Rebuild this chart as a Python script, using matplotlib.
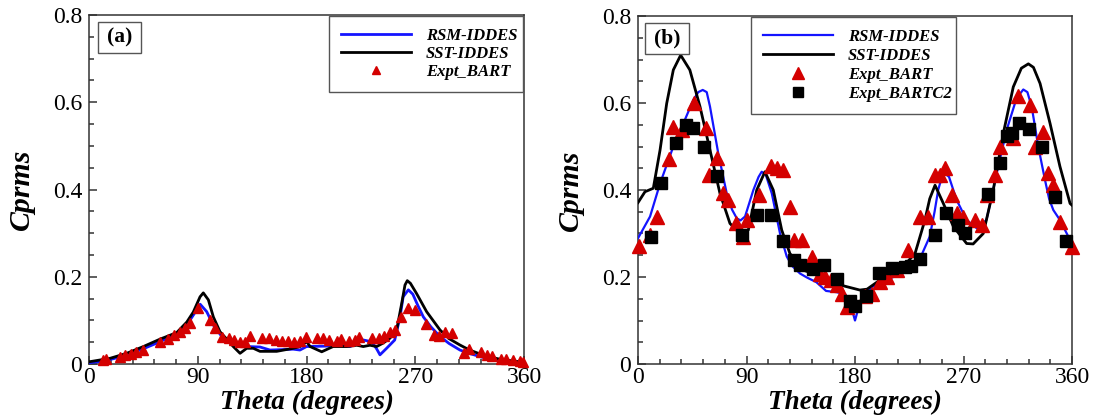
import matplotlib
matplotlib.use("Agg")
import matplotlib.pyplot as plt
from matplotlib.patches import Rectangle
from matplotlib.ticker import MultipleLocator, FuncFormatter

plt.rcParams["font.family"] = ["Liberation Serif", "DejaVu Serif"]

BLUE = "#1414ff"
RED = "#d40000"
SPINE = "#333333"

# ---- panel (a) ----
a_rsm_theta = [0, 10, 20, 31, 45, 58.8, 72.6, 80.9, 86.3, 92, 97.4, 102.9, 111, 119.4,
               130.5, 141.5, 149.8, 160, 169, 174.6, 180, 196.7, 202, 216, 227, 234,
               238, 240.8, 246.3, 253, 257.4, 260, 264.3, 268, 272, 276.7, 283,
               290.5, 298, 307, 315, 323.6, 332, 340, 348, 356.7, 360]
a_rsm_val = [0.003, 0.006, 0.012, 0.020, 0.035, 0.051, 0.070, 0.089, 0.112, 0.137,
             0.120, 0.089, 0.059, 0.044, 0.040, 0.039, 0.032, 0.033, 0.034, 0.032,
             0.040, 0.041, 0.044, 0.040, 0.055, 0.051, 0.035, 0.021, 0.036, 0.055,
             0.108, 0.154, 0.170, 0.160, 0.135, 0.108, 0.085, 0.063, 0.047, 0.032,
             0.024, 0.017, 0.011, 0.0076, 0.005, 0.004, 0.003]

a_sst_theta = [0, 17.4, 31.2, 45, 58.8, 72.6, 80.9, 86.3, 91.9, 94.6, 98.8, 102.9,
               108.4, 114, 119.4, 125, 130.5, 136, 141.5, 155.3, 169, 174.6, 180.2,
               183, 192.6, 202, 213.3, 221.5, 227, 232.5, 238, 243.5, 249, 254.6,
               258.8, 261.5, 263.4, 266, 271, 279.4, 290.5, 298, 307, 315, 323.6,
               332, 340, 348, 356.7, 360]
a_sst_val = [0.005, 0.013, 0.0245, 0.040, 0.057, 0.072, 0.096, 0.119, 0.154, 0.163,
             0.147, 0.108, 0.074, 0.057, 0.040, 0.0245, 0.036, 0.036, 0.029, 0.029,
             0.036, 0.040, 0.051, 0.040, 0.028, 0.040, 0.040, 0.043, 0.040, 0.043,
             0.040, 0.048, 0.059, 0.078, 0.139, 0.181, 0.191, 0.185, 0.162, 0.120,
             0.078, 0.058, 0.0435, 0.032, 0.023, 0.016, 0.011, 0.008, 0.005, 0.005]

a_bart_theta = [11.5, 14.4, 26, 30, 34.6, 39, 44.7, 59, 65, 70.7, 75, 79.4, 83.7, 90,
                100, 104.5, 109.7, 115.5, 119.8, 124.7, 129.3, 133.4, 143, 148.7,
                154.5, 160, 164.5, 170, 174.7, 179.6, 188.5, 194, 199, 205, 208.4,
                215, 220, 223.7, 233.8, 239.6, 244, 248.8, 253.5, 258.4, 264, 270,
                278.6, 285.8, 290, 294.5, 300, 310.4, 314.7, 324.8, 329, 333.4,
                340.6, 345, 350.8, 356.5, 359.4]
a_bart_val = [0.009, 0.011, 0.017, 0.021, 0.024, 0.028, 0.032, 0.051, 0.057, 0.066,
              0.074, 0.082, 0.093, 0.128, 0.102, 0.082, 0.063, 0.059, 0.055, 0.051,
              0.051, 0.064, 0.059, 0.059, 0.055, 0.053, 0.053, 0.051, 0.053, 0.061,
              0.059, 0.059, 0.055, 0.053, 0.057, 0.053, 0.055, 0.061, 0.059, 0.059,
              0.064, 0.074, 0.078, 0.108, 0.128, 0.124, 0.092, 0.066, 0.064, 0.074,
              0.070, 0.026, 0.034, 0.028, 0.021, 0.018, 0.011, 0.011, 0.009, 0.008,
              0.005]

# ---- panel (b) ----
b_rsm_theta = [0, 10, 18.3, 29.3, 37.6, 45.9, 50, 53.7, 57, 59.7, 66.6, 73.6, 78,
               81.9, 85, 88.8, 95.7, 100, 102.6, 106, 111, 117.8, 123.4, 128, 134.4,
               140, 148, 156, 165, 172, 176, 180, 184, 190, 195, 205, 217, 226, 234,
               242, 246, 249, 252, 254.7, 258, 264.3, 272.6, 281, 289, 293, 297.5,
               305.8, 314, 319.6, 323, 326.6, 332, 337.6, 341, 344.5, 350, 358.4, 360]
b_rsm_val = [0.289, 0.339, 0.415, 0.500, 0.553, 0.607, 0.625, 0.630, 0.625, 0.592,
             0.484, 0.392, 0.355, 0.335, 0.330, 0.339, 0.400, 0.430, 0.442, 0.435,
             0.392, 0.300, 0.247, 0.225, 0.208, 0.199, 0.188, 0.168, 0.165, 0.160,
             0.140, 0.100, 0.140, 0.165, 0.178, 0.190, 0.208, 0.225, 0.243, 0.293,
             0.350, 0.400, 0.430, 0.438, 0.430, 0.377, 0.331, 0.312, 0.331, 0.380,
             0.438, 0.538, 0.611, 0.631, 0.625, 0.591, 0.500, 0.423, 0.380, 0.354,
             0.331, 0.285, 0.280]

b_sst_theta = [0, 5.8, 12.7, 18.3, 23.8, 29.3, 35.4, 43, 51.4, 59.7, 68, 76.3, 84.6,
               91.5, 98.5, 105.3, 112.2, 119.2, 126, 137, 148, 159, 170, 184, 190,
               200.7, 217.3, 229.8, 238, 242, 246.4, 253.3, 261.6, 272.6, 278,
               286.4, 294.7, 303, 311.3, 318, 323.8, 328, 333.5, 341.8, 350, 358.4,
               360]
b_sst_val = [0.371, 0.396, 0.404, 0.492, 0.599, 0.676, 0.710, 0.676, 0.592, 0.492,
             0.392, 0.323, 0.300, 0.308, 0.400, 0.442, 0.400, 0.308, 0.254, 0.216,
             0.205, 0.193, 0.180, 0.170, 0.172, 0.193, 0.216, 0.254, 0.331, 0.380,
             0.411, 0.369, 0.316, 0.277, 0.276, 0.300, 0.400, 0.530, 0.637, 0.680,
             0.690, 0.682, 0.645, 0.553, 0.454, 0.369, 0.365]

b_bart_theta = [1, 10, 15.5, 26, 29.3, 36.2, 46.7, 56.4, 59.2, 65.3, 70.8, 75, 81.3,
                87.4, 90.7, 100.6, 110, 115, 120, 126, 129.4, 135.8, 144, 151, 155,
                160, 164.8, 169, 173, 188, 194, 200.7, 206.3, 214.6, 224.2, 234,
                240.8, 246.4, 250.5, 254.7, 260.2, 264.3, 269.8, 279.5, 285, 289.2,
                296, 300, 311.3, 315.5, 325, 329.3, 336, 340.3, 344.5, 350, 359.8]
b_bart_val = [0.271, 0.297, 0.339, 0.471, 0.544, 0.538, 0.601, 0.542, 0.434, 0.473,
              0.392, 0.377, 0.323, 0.293, 0.331, 0.389, 0.455, 0.450, 0.446, 0.362,
              0.285, 0.285, 0.247, 0.208, 0.200, 0.193, 0.182, 0.161, 0.130, 0.157,
              0.161, 0.189, 0.201, 0.216, 0.262, 0.339, 0.339, 0.434, 0.434, 0.450,
              0.389, 0.346, 0.339, 0.331, 0.320, 0.389, 0.434, 0.500, 0.519, 0.615,
              0.595, 0.500, 0.534, 0.438, 0.412, 0.327, 0.270]

b_bartc2_theta = [10.5, 18.8, 31.3, 39.8, 45.9, 54.7, 65.8, 86, 98.5, 110, 120, 129.4,
                  134.4, 145, 154.6, 165.4, 175.7, 180, 189.5, 200, 210.4, 221.5,
                  226.2, 234, 246.4, 255.5, 265.7, 271.3, 290.6, 300.3, 305.8, 310,
                  316, 324.6, 334.9, 346, 355]
b_bartc2_val = [0.293, 0.415, 0.507, 0.549, 0.542, 0.500, 0.433, 0.297, 0.343, 0.343,
                0.283, 0.239, 0.228, 0.218, 0.228, 0.195, 0.145, 0.134, 0.157, 0.210,
                0.220, 0.224, 0.225, 0.241, 0.297, 0.346, 0.320, 0.302, 0.391, 0.461,
                0.523, 0.530, 0.555, 0.540, 0.498, 0.385, 0.283]

x_ticks = [0, 90, 180, 270, 360]
y_ticks = [0, 0.2, 0.4, 0.6, 0.8]


def style_axes(ax):
    ax.set_xlim(0, 360)
    ax.set_ylim(0, 0.8)
    ax.set_xticks(x_ticks)
    ax.set_yticks(y_ticks)
    ax.xaxis.set_minor_locator(MultipleLocator(18))
    ax.yaxis.set_minor_locator(MultipleLocator(0.05))
    ax.yaxis.set_major_formatter(FuncFormatter(lambda v, p: "0" if v == 0 else f"{v:.1f}"))
    ax.tick_params(which="both", direction="in", top=False, right=False,
                   color=SPINE, width=1.1, labelsize=17)
    ax.tick_params(which="major", length=6)
    ax.tick_params(which="minor", length=3.5)
    ax.tick_params(axis="y", pad=5)
    ax.tick_params(axis="x", pad=2)
    for s in ax.spines.values():
        s.set_color(SPINE)
        s.set_linewidth(1.1)
    ax.set_xlabel("Theta (degrees)", fontsize=19.5, fontweight="bold", fontstyle="italic")
    ax.set_ylabel("Cprms", fontsize=21.5, fontweight="bold", fontstyle="italic")
    ax.xaxis.set_label_coords(0.5, -0.075)
    ax.yaxis.set_label_coords(-0.125, 0.5)


def panel_tag(ax, text, x0, w):
    ax.add_patch(Rectangle((x0, 0.891), w, 0.089, transform=ax.transAxes,
                           facecolor="white", edgecolor="#555555", lw=1.0, zorder=6))
    ax.text(x0 + w / 2, 0.935, text, transform=ax.transAxes, ha="center",
            va="center", fontsize=15.5, fontweight="bold", zorder=7)


fig = plt.figure(figsize=(10.94, 4.2), dpi=100)
ax_a = fig.add_axes([89 / 1094, 56 / 420, 435 / 1094, 349 / 420])
ax_b = fig.add_axes([638 / 1094, 56 / 420, 434 / 1094, 348 / 420])

# (a)
ax_a.plot(a_rsm_theta, a_rsm_val, color=BLUE, lw=2.0, label="RSM-IDDES", zorder=3)
ax_a.plot(a_sst_theta, a_sst_val, color="black", lw=2.0, label="SST-IDDES", zorder=3)
ax_a.plot(a_bart_theta, a_bart_val, ls="none", marker="^", ms=7.5, color=RED,
          mec=RED, label="Expt_BART", zorder=4, clip_on=False)
style_axes(ax_a)
panel_tag(ax_a, "(a)", 0.021, 0.098)
leg = ax_a.legend(loc="upper left", bbox_to_anchor=(0.552, 0.774, 0.446, 0.223),
                  mode="expand", borderaxespad=0, fancybox=False, framealpha=1,
                  edgecolor="#555555", handlelength=4.2, handletextpad=0.9,
                  labelspacing=0.12, borderpad=0.72, markerscale=0.75,
                  prop={"size": 12, "weight": "bold", "style": "italic"})
leg.get_frame().set_linewidth(1.0)

# (b)
ax_b.plot(b_rsm_theta, b_rsm_val, color=BLUE, lw=1.6, label="RSM-IDDES", zorder=3)
ax_b.plot(b_sst_theta, b_sst_val, color="black", lw=2.0, label="SST-IDDES", zorder=3)
ax_b.plot(b_bart_theta, b_bart_val, ls="none", marker="^", ms=9.5, color=RED,
          mec=RED, label="Expt_BART", zorder=4, clip_on=False)
ax_b.plot(b_bartc2_theta, b_bartc2_val, ls="none", marker="s", ms=8, color="black",
          label="Expt_BARTC2", zorder=4, clip_on=False)
style_axes(ax_b)
panel_tag(ax_b, "(b)", 0.016, 0.101)
leg = ax_b.legend(loc="upper left", bbox_to_anchor=(0.260, 0.716, 0.473, 0.281),
                  mode="expand", borderaxespad=0, fancybox=False, framealpha=1,
                  edgecolor="#555555", handlelength=4.2, handletextpad=0.9,
                  labelspacing=0.18, borderpad=0.72, markerscale=0.85,
                  prop={"size": 12, "weight": "bold", "style": "italic"})
leg.get_frame().set_linewidth(1.0)

fig.savefig("out.png", dpi=100)
